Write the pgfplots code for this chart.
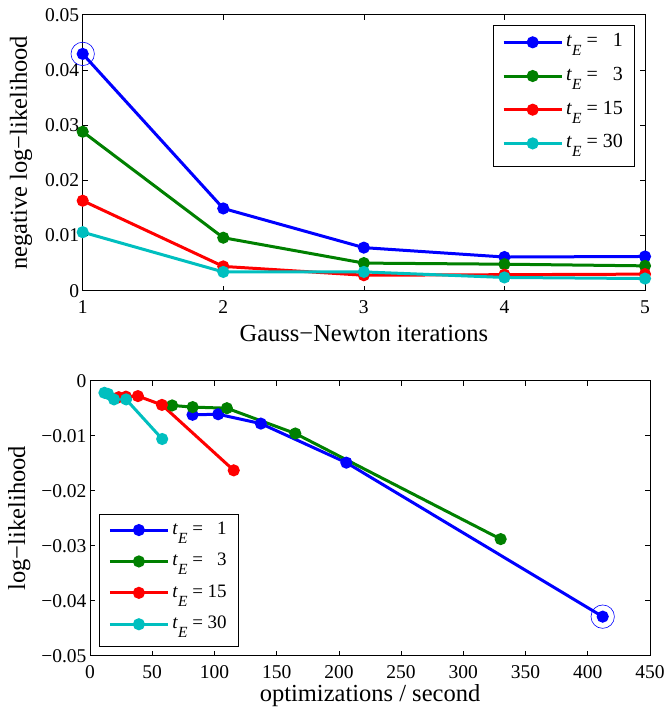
\documentclass[border=0pt]{standalone}
\usepackage{fontspec}
\setmainfont{Liberation Serif}
\usepackage{pgfplots}
\pgfplotsset{compat=1.18}
\definecolor{mblue}{rgb}{0,0,1}
\definecolor{mgreen}{rgb}{0,0.5,0}
\definecolor{mred}{rgb}{1,0,0}
\definecolor{mcyan}{rgb}{0,0.75,0.75}
\newcommand{\tE}{\textit{t}\raisebox{-9pt}{\fontsize{15.5}{15.5}\selectfont\textit{E}}}
\pgfplotsset{
  mystyle/.style={
    scale only axis,
    clip=false,
    scaled ticks=false,
    axis line style={line width=0.8pt},
    tick style={line width=0.7pt, black},
    tick align=inside,
    major tick length=5pt,
    ticklabel style={font=\fontsize{19.5}{19.5}\selectfont},
    xticklabel style={inner sep=1pt, yshift=-9pt},
    label style={font=\fontsize{24.5}{24.5}\selectfont},
    xlabel style={inner sep=0pt},
    /pgf/number format/assume math mode=true,
    legend style={draw=black, line width=0.8pt, fill=white,
      font=\fontsize{20}{20}\selectfont, cells={anchor=west},
      inner xsep=8.7pt, inner ysep=3pt, row sep=0pt,
      nodes={inner xsep=3pt, inner ysep=0pt, text height=18pt, text depth=15.7pt}},
    legend image code/.code={\draw[mark repeat=2,mark phase=2,#1] plot coordinates {(0pt,3.35pt) (29pt,3.35pt) (58pt,3.35pt)};},
  },
  ser/.style={#1, line width=3pt, mark=*, mark size=4.5pt, mark options={solid, fill=#1}},
  ring/.style={mblue, only marks, mark=o, mark size=11.7pt, line width=0.6pt, forget plot},
}
\begin{document}
\begin{tikzpicture}
\useasboundingbox (0,0) rectangle (665pt,707pt);
% top axis
\begin{axis}[mystyle,
  at={(82.7pt,416.3pt)}, anchor=south west,
  width=562.3pt, height=276pt,
  xmin=1, xmax=5, ymin=0, ymax=0.05,
  xtick={1,2,3,4,5},
  ytick={0,0.01,0.02,0.03,0.04,0.05},
  yticklabels={0,0.01,0.02,0.03,0.04,0.05},
  xlabel={Gauss−Newton iterations},
  ylabel={negative log−likelihood},
  xlabel style={at={(axis description cs:0.5,-0.185)}, anchor=base},
  ylabel style={at={(axis description cs:-0.0991,0.5)}, anchor=base},
  legend style={at={(1,1)}, anchor=north east, xshift=-10pt, yshift=-10.7pt},
]
\addplot[ser=mblue] coordinates {(1,0.0429) (2,0.0149) (3,0.0078) (4,0.0061) (5,0.0062)};
\addlegendentry{\tE{} = \phantom{1}1}
\addplot[ser=mgreen] coordinates {(1,0.0288) (2,0.0096) (3,0.0050) (4,0.0048) (5,0.0045)};
\addlegendentry{\tE{} = \phantom{1}3}
\addplot[ser=mred] coordinates {(1,0.0163) (2,0.0044) (3,0.0028) (4,0.0029) (5,0.0030)};
\addlegendentry{\tE{} = 15}
\addplot[ser=mcyan] coordinates {(1,0.0106) (2,0.0034) (3,0.0034) (4,0.0024) (5,0.0022)};
\addlegendentry{\tE{} = 30}
\addplot[ring] coordinates {(1,0.0429)};
\end{axis}
% bottom axis
\begin{axis}[mystyle,
  at={(90pt,51.3pt)}, anchor=south west,
  width=560pt, height=275pt,
  xmin=0, xmax=450, ymin=-0.05, ymax=0,
  xtick={0,50,100,150,200,250,300,350,400,450},
  ytick={-0.05,-0.04,-0.03,-0.02,-0.01,0},
  yticklabels={−0.05,−0.04,−0.03,−0.02,−0.01,0},
  xlabel={optimizations / second},
  ylabel={log−likelihood},
  xlabel style={at={(axis description cs:0.5,-0.168)}, anchor=base},
  ylabel style={at={(axis description cs:-0.116,0.5)}, anchor=base},
  legend style={at={(0,0)}, anchor=south west, xshift=9.3pt, yshift=9pt,
    font=\fontsize{19}{19}\selectfont,
    nodes={text height=16.8pt, text depth=14.6pt}},
]
\addplot[ser=mblue] coordinates {(412,-0.0429) (206,-0.0149) (137.3,-0.0078) (103,-0.0061) (82.4,-0.0062)};
\addlegendentry{\tE{} = \phantom{1}1}
\addplot[ser=mgreen] coordinates {(330,-0.0288) (165,-0.0096) (110,-0.0050) (82.5,-0.0048) (66,-0.0045)};
\addlegendentry{\tE{} = \phantom{1}3}
\addplot[ser=mred] coordinates {(115.5,-0.0163) (57.8,-0.0044) (38.5,-0.0028) (28.9,-0.0029) (23.1,-0.0030)};
\addlegendentry{\tE{} = 15}
\addplot[ser=mcyan] coordinates {(58,-0.0106) (29,-0.0034) (19.3,-0.0034) (14.5,-0.0024) (11.6,-0.0022)};
\addlegendentry{\tE{} = 30}
\addplot[ring] coordinates {(412,-0.0429)};
\end{axis}
\end{tikzpicture}
\end{document}
